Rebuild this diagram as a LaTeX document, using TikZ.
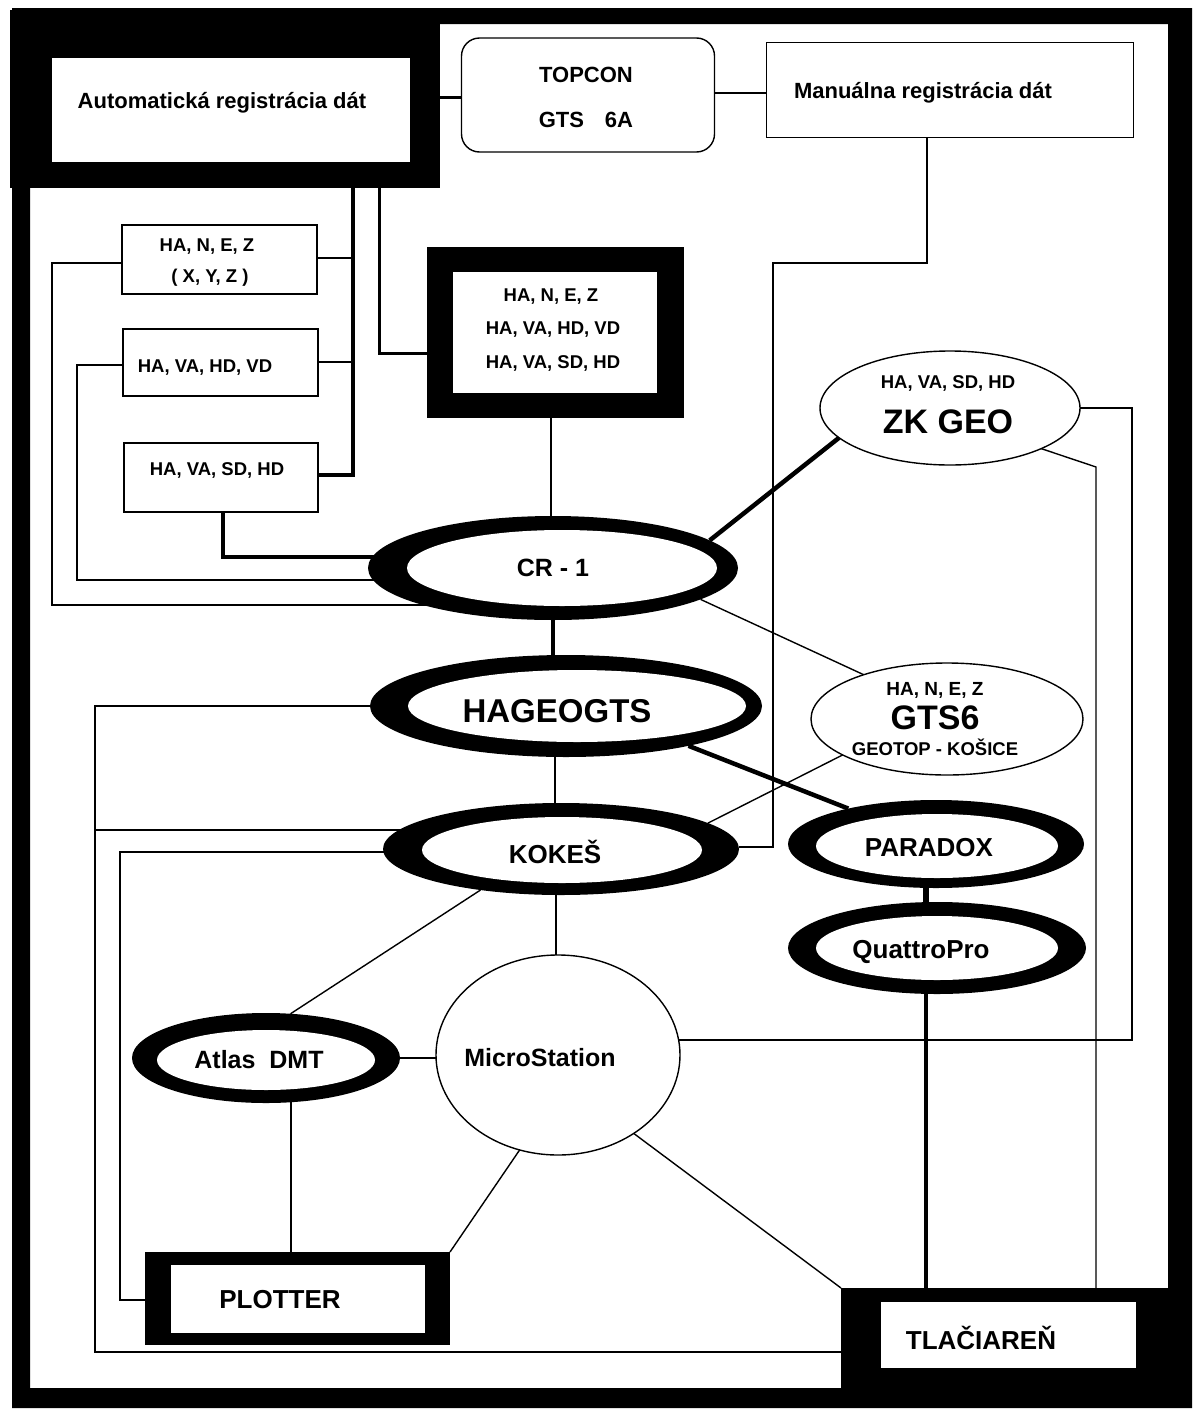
\documentclass[tikz,border=0pt]{standalone}
\usepackage{fontspec}
\setmainfont{Liberation Sans}
\usetikzlibrary{shapes.geometric}
\pgfdeclarelayer{bg}
\pgfsetlayers{bg,main}
\newcommand{\myfs}[1]{\fontsize{#1}{#1}\selectfont\bfseries}
\begin{document}
\begin{tikzpicture}[x=1pt,y=-1pt,
  blk/.style={rectangle,fill=black,draw=none,inner sep=0pt,outer sep=0pt},
  wht/.style={rectangle,fill=white,draw=none,inner sep=0pt,outer sep=0pt},
  rout/.style={ellipse,fill=black,draw=none,inner sep=0pt,outer sep=0pt},
  rin/.style={ellipse,fill=white,draw=none,inner sep=0pt,outer sep=0pt},
  tell/.style={ellipse,fill=white,draw=black,line width=1.4pt,inner sep=0pt,outer sep=0pt},
  tbox/.style={rectangle,fill=white,draw=black,line width=1.4pt,inner sep=0pt,outer sep=0pt},
  txt/.style={inner sep=0pt,align=center},
  ln/.style={line width=1.4pt},
  lnm/.style={line width=3pt},
  lnk/.style={line width=4.5pt},
]
\useasboundingbox (0,0) rectangle (1196,1411);
% frame
\fill[black,even odd rule] (12,8) rectangle (1192,1408) (30,24) rectangle (1168,1388);

% top row
\node[blk,minimum width=430pt,minimum height=178pt] (auto) at (225,99) {};
\node[wht,minimum width=358pt,minimum height=104pt] (autoin) at (231,110) {};
\node[txt,font=\myfs{22}] (tauto) at (222,103) {Automatická registrácia dát};

\node[tbox,rounded corners=18pt,minimum width=253pt,minimum height=114pt] (top) at (588,95) {};
\node[txt,font=\myfs{22}] (ttop1) at (586,75) {TOPCON};
\node[txt,font=\myfs{22}] (ttop2) at (586,120) {GTS\hspace{0.95em}6A};

\node[tbox,minimum width=367pt,minimum height=95pt] (man) at (950,90) {};
\node[txt,font=\myfs{22}] (tman) at (923,93) {Manuálna registrácia dát};

% left boxes
\node[tbox,minimum width=195pt,minimum height=69pt] (b1) at (219.5,259.5) {};
\node[txt,font=\myfs{18.5}] (tb1a) at (207,247) {HA, N, E, Z};
\node[txt,font=\myfs{18.5}] (tb1b) at (210,278) {( X, Y, Z )};
\node[tbox,minimum width=195pt,minimum height=67pt] (b2) at (220.5,362.5) {};
\node[txt,font=\myfs{18.5}] (tb2) at (205,368) {HA, VA, HD, VD};
\node[tbox,minimum width=194pt,minimum height=69pt] (b3) at (221,477.5) {};
\node[txt,font=\myfs{18.5}] (tb3) at (217,470) {HA, VA, SD, HD};

% big box
\node[blk,minimum width=257pt,minimum height=171pt] (big) at (555.5,332.5) {};
\node[wht,minimum width=204pt,minimum height=121pt] (bigin) at (555,332.5) {};
\node[txt,font=\myfs{18.5}] (tbiga) at (551,297) {HA, N, E, Z};
\node[txt,font=\myfs{18.5}] (tbigb) at (553,330) {HA, VA, HD, VD};
\node[txt,font=\myfs{18.5}] (tbigc) at (553,363) {HA, VA, SD, HD};

% thick ellipses
\node[rout,minimum width=370pt,minimum height=104pt] (cr) at (553,568) {};
\node[rin,minimum width=310pt,minimum height=76pt] (crin) at (562,568) {};
\node[txt,font=\myfs{25}] (tcr) at (553,568) {CR - 1};

\node[rout,minimum width=392pt,minimum height=102pt] (hag) at (566,706) {};
\node[rin,minimum width=338pt,minimum height=72pt] (hagin) at (577,706) {};
\node[txt,font=\myfs{33}] (thag) at (557,711) {HAGEOGTS};

\node[rout,minimum width=356pt,minimum height=92pt] (kok) at (561,849) {};
\node[rin,minimum width=280pt,minimum height=66pt] (kokin) at (562,850) {};
\node[txt,font=\myfs{26}] (tkok) at (555,852) {KOKEŠ};

\node[rout,minimum width=296pt,minimum height=88pt] (par) at (936,844) {};
\node[rin,minimum width=242pt,minimum height=64pt] (parin) at (937,846) {};
\node[txt,font=\myfs{26}] (tpar) at (929,848) {PARADOX};

\node[rout,minimum width=298pt,minimum height=92pt] (qp) at (937,948) {};
\node[rin,minimum width=242pt,minimum height=64pt] (qpin) at (937,948) {};
\node[txt,font=\myfs{26}] (tqp) at (921,952) {QuattroPro};

\node[rout,minimum width=268pt,minimum height=90pt] (atl) at (266,1058) {};
\node[rin,minimum width=218pt,minimum height=60pt] (atlin) at (266,1060) {};
\node[txt,font=\myfs{25}] (tatl) at (259,1060) {Atlas\ \ DMT};

% thin ellipses
\node[tell,minimum width=260pt,minimum height=114pt] (zk) at (950,408) {};
\node[txt,font=\myfs{18.5}] (tzka) at (948,383) {HA, VA, SD, HD};
\node[txt,font=\myfs{34}] (tzkb) at (948,422) {ZK GEO};

\node[tell,minimum width=272pt,minimum height=112pt] (gts) at (947,719) {};
\node[txt,font=\myfs{19}] (tgtsa) at (935,690) {HA, N, E, Z};
\node[txt,font=\myfs{34}] (tgtsb) at (935,718) {GTS6};
\node[txt,font=\myfs{18.5}] (tgtsc) at (935,747) {GEOTOP - KOŠICE};

\node[tell,minimum width=244pt,minimum height=200pt] (ms) at (558,1055) {};
\node[txt,font=\myfs{25}] (tms) at (540,1058) {MicroStation};

% bottom boxes
\node[blk,minimum width=305pt,minimum height=93pt] (plot) at (297.5,1298.5) {};
\node[wht,minimum width=254pt,minimum height=68pt] (plotin) at (298,1299) {};
\node[txt,font=\myfs{26}] (tplot) at (280,1300) {PLOTTER};

\node[blk,minimum width=351pt,minimum height=120pt] (tla) at (1016.5,1348) {};
\node[wht,minimum width=255pt,minimum height=66pt] (tlain) at (1008.5,1335) {};
\node[txt,font=\myfs{26}] (ttla) at (981,1338) {TLAČIAREŇ};

\begin{pgfonlayer}{bg}
\fill[white] (0,0) rectangle (1196,1411);
\draw[lnm] (auto.east |- 0,97) -- (top.west |- 0,97);
\draw[ln] (top.east |- 0,93) -- (man.west |- 0,93);
\draw[ln] (man.south -| 927,0) |- (773,263) -- (773,847) -- (kok.east |- 0,847);
\draw[lnk] (auto.south -| 353,0) -- (353,475) -- (b3.east |- 0,475);
\draw[ln] (b1.east |- 0,258) -- (353,258);
\draw[ln] (b2.east |- 0,362) -- (353,362);
\draw[lnm] (auto.south -| 379,0) |- (big.west |- 0,353);
\draw[ln] (b1.west |- 0,263) -| (52,605) -- (cr.center |- 0,605);
\draw[ln] (b2.west |- 0,365) -| (77,580) -- (cr.center |- 0,580);
\draw[lnk] (b3.south -| 223,0) |- (cr.center |- 0,557);
\draw[ln] (big.south -| 551,0) -- (cr.center -| 551,0);
\draw[lnk] (cr.center) -- (cr.center |- hag.center);
\draw[lnk] (cr.10) -- (zk.195);
\draw[ln] (cr.-12) -- (gts.152);
\draw[lnk] (hag.-18) -- (par.158);
\draw[ln] (hag.center -| 555,0) -- (kok.center -| 555,0);
\draw[ln] (hag.center) -| (95,1352) -- (tla.center |- 0,1352);
\draw[ln] (95,830) -- (kok.center |- 0,830);
\draw[ln] (kok.center |- 0,852) -| (120,1300) -- (plot.center |- 0,1300);
\draw[ln] (kok.-153) -- (atl.61);
\draw[ln] (kok.center -| 556,0) -- (ms.center -| 556,0);
\draw[ln] (kok.10) -- (gts.199);
\draw[line width=6pt] (par.center -| 926,0) -- (qp.center -| 926,0);
\draw[lnk] (qp.center -| 926,0) -- (tla.center -| 926,0);
\draw[ln] (zk.center) -| (1132,1040) -- (ms.center |- 0,1040);
\draw[ln] (zk.-24) -- (1096,467) -- (tla.center -| 1096,0);
\draw[ln] (atl.center) -- (ms.center |- atl.center);
\draw[ln] (atl.center -| 291,0) -- (plot.center -| 291,0);
\draw[ln] (ms.-112) -- (plot.north east);
\draw[ln] (ms.-46) -- (tla.north west);
\end{pgfonlayer}
\end{tikzpicture}
\end{document}
